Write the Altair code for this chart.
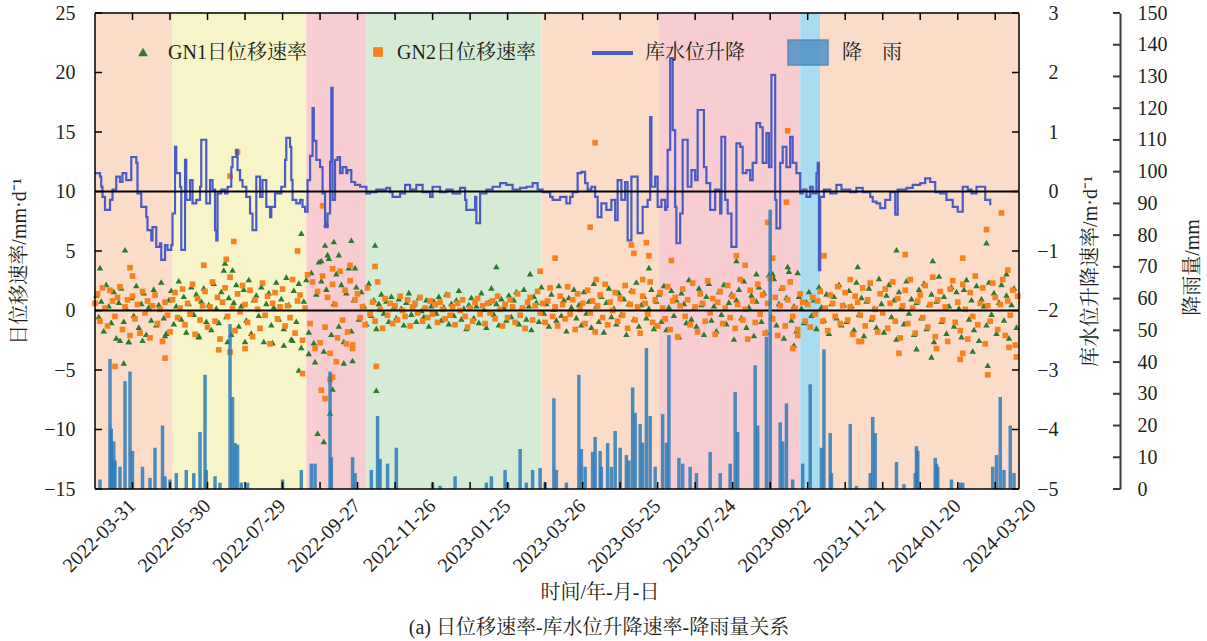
import altair as alt
import pandas as pd

# ---------------- data ----------------
START = pd.Timestamp("2022-03-01")

# phase background bands (day offsets from 2022-03-01)
band_start = [0, 62, 169, 217, 357, 451, 564, 580]
band_end = [62, 169, 217, 357, 451, 564, 580, 739]
band_phase = ["p1", "p2", "p3", "p4", "p5", "p6", "p7", "p8"]
band_colors = ["#fbdcc8", "#f7f5c8", "#f8cdd1", "#d5ebd5", "#fbdcc8", "#f8cdd1", "#a8dcef", "#fbdcc8"]

# daily rainfall (day offset, mm)
rain = [(4,3),(12,41),(13,19),(15,15),(16,9),(20,7),(24,34),(28,37),(30,12),(38,7),(44,3.5),(48,13),
        (54,20),(56,4),(60,3),(65,5),(73,6),(79,5),(84,18),(88,36),(89,6),(96,4),(100,2),(108,52),
        (110,29),(112,14.5),(114,14),(117,2),(122,2),(150,3),(165,6),(173,8),(176,8),(188,37),(189,10),
        (206,10),(208,5),(221,6),(226,23),(228,9.5),(234,8),(241,13),(270,2),(276,1),(288,4),(313,2),
        (317,4),(328,6),(330,2),(340,12.6),(345,2),(350,6),(356,6.6),(360,2),(367,28.6),(369,6),(377,2),
        (387,36),(389,12.6),(392,7),(398,11.7),(400,16.4),(404,12),(405,7),(410,14.5),(413,7),(416,18.3),
        (420,13),(425,10.7),(427,9),(430,32),(432,24),(436,20.5),(438,14.6),(441,44.4),(444,23),(448,7),
        (454,23.6),(457,14.6),(459,48.5),(467,9.8),(470,8),(476,7),(481,5),(492,11.7),(500,5),(508,8),
        (512,30.6),(514,18),(528,39),(530,20),(537,48),(540,88),(548,21),(550,15),(553,27),(558,3),
        (566,8),(572,33),(581,13),(583,44),(588,17.6),(589,5),(604,20.5),(609,1),(620,5),(622,22.7),
        (624,17.6),(641,8.5),(647,1.5),(656,5),(657,13.5),(658,12),(672,9.8),(673,8),(674,7),(685,3),
        (692,2),(694,2),(718,7),(721,10.7),(724,29),(727,6),(732,20),(735,5)]

# reservoir water level change rate (day offset, m/d)
water = [(0,.31),(4,.25),(5,.08),(6,-.09),(8,-.31),(10,-.31),(12,-.14),(14,.03),(17,.25),(20,.16),(22,.31),
         (25,.19),(29,.58),(32,.58),(33,.48),(34,-.03),(37,-.26),(41,-.43),(42,-.65),(45,-.82),(46,-.6),
         (49,-.93),(52,-.87),(53,-1.15),(56,-.9),(58,-.98),(61,-.9),(62,-.37),(64,.75),(65,.31),(68,.08),
         (69,-.98),(72,.53),(73,-.14),(76,.19),(78,-.2),(81,-.14),(84,.08),(85,.87),(88,.87),(89,-.2),
         (92,.19),(94,.03),(96,-.65),(97,-.82),(98,-.03),(101,.03),(104,-.03),(106,.08),(109,.41),(110,.58),
         (113,.7),(114,.36),(116,.19),(118,.08),(121,-.09),(124,-.37),(126,-.65),(129,.25),(132,-.09),
         (134,.19),(137,-.26),(140,-.43),(141,-.26),(144,-.03),(146,-.03),(149,.08),(152,.53),(153,.9),
         (156,.75),(157,.19),(158,-.14),(161,-.2),(164,-.14),(166,-.26),(168,-.34),(170,.19),(172,.6),
         (174,1.4),(175,.85),(177,.53),(180,.41),(182,-.03),(184,-.6),(186,-.37),(188,.5),(189,1.74),
         (190,-.14),(192,.53),(194,.58),(196,.31),(198,.41),(201,.31),(202,.36),(205,.16),(208,.11),
         (212,.08),(216,.08),(217,-.03),(220,-.01),(225,.03),(230,.03),(233,.06),(236,-.01),(238,-.09),
         (244,-.03),(248,.11),(252,.03),(257,.11),(262,-.01),(268,-.09),(270,.08),(276,-.01),(281,.03),
         (286,-.03),(292,.06),(296,-.14),(297,-.31),(301,-.31),(304,-.09),(305,-.53),(308,-.03),(313,.03),
         (318,.08),(324,.14),(329,.11),(334,.03),(340,.06),(345,.08),(350,.14),(354,.03),(358,-.01),
         (364,-.09),(366,-.14),(372,-.09),(377,-.2),(380,-.09),(382,-.01),(386,.31),(389,.33),(392,.14),
         (394,.03),(397,.08),(400,-.09),(402,-.43),(405,-.2),(409,-.31),(413,-.14),(416,-.48),(418,.19),
         (421,-.14),(424,.16),(426,-.82),(429,.25),(432,.25),(434,-.7),(438,-.26),(442,-.14),(444,1.25),
         (445,.08),(448,.25),(450,-.26),(453,-.14),(456,-.31),(457,-.26),(458,.7),(460,2.24),(462,1.03),
         (464,-.26),(465,-.87),(468,-.37),(470,.87),(472,.87),(474,.08),(477,.36),(480,.19),(482,1.37),
         (485,1.37),(487,.41),(489,.14),(492,-.31),(496,.03),(500,-.37),(501,.92),(504,-.14),(506,-.37),
         (509,-.93),(512,-.93),(513,.81),(516,.75),(518,.31),(521,.36),(524,.19),(526,.48),(529,1.15),
         (532,1.08),(534,.48),(537,.98),(539,.41),(541,1.96),(544,-.14),(545,-.62),(548,.48),(550,.75),
         (553,.41),(556,.92),(558,.48),(561,.31),(564,-.03),(566,.03),(569,-.09),(572,.08),(574,-.03),
         (577,.31),(578,.48),(579,-1.32),(580,-.09),(583,.03),(588,-.03),(593,.11),(597,.03),(604,-.01),
         (609,.06),(614,-.01),(620,-.09),(622,-.17),(625,-.2),(628,-.28),(632,-.14),(636,-.01),(640,-.39),
         (642,.03),(649,.06),(654,.11),(660,.14),(664,.22),(668,.16),(672,-.01),(676,-.03),(681,-.14),
         (686,-.26),(690,-.34),(694,.08),(698,.03),(701,-.03),(705,.08),(709,.08),(712,-.14),(716,-.23)]

# GN2 daily displacement rate, every second day from day 0 (mm/d)
gn2_vals = [0.6,1.4,-0.9,1.9,0.2,-1.3,1.7,0.8,-0.5,1.1,2.0,-1.6,0.3,0.9,-2.1,
            1.2,-0.7,0.5,-1.9,1.6,-0.2,0.8,-2.3,0.4,1.3,-1.1,0.1,-2.6,0.7,-0.4,
            -1.8,0.9,1.5,-0.6,0.2,1.8,-1.2,0.6,-0.3,2.2,-2.0,1.0,-0.8,0.4,1.6,
            -1.4,0.3,2.4,-0.9,1.1,-2.4,0.7,1.9,-0.5,2.8,0.2,-1.7,1.4,-0.1,2.1,
            0.5,-1.0,1.7,-2.2,0.9,0.1,-1.5,2.3,-0.4,1.2,-2.8,0.6,1.5,-0.7,0.3,
            1.8,-1.3,0.4,-0.6,2.6,-1.9,0.8,1.3,-2.5,0.2,3.0,-1.1,2.4,-3.2,1.6,
            -2.7,2.9,-1.4,1.1,-3.6,2.2,0.5,-2.3,3.3,-0.8,1.7,-1.8,2.5,-2.9,0.9,
            1.4,-0.6,0.3,-1.2,1.9,-0.3,0.7,-0.9,2.4,0.1,-1.5,1.0,-0.4,0.6,-1.1,
            0.4,-0.8,1.2,0.0,-0.5,0.9,-1.3,0.3,0.6,-0.2,1.1,-0.9,0.2,-0.6,0.8,
            -0.3,0.5,-1.0,0.7,0.1,-0.7,1.3,-0.4,0.3,-1.2,0.6,0.0,0.9,-0.5,-1.4,
            0.2,-0.9,0.7,1.0,-0.3,0.4,-1.1,0.6,-0.2,0.8,-0.7,1.2,0.1,-1.3,0.5,
            -0.6,0.9,0.3,-1.0,1.4,-0.4,0.2,-1.5,0.7,1.1,-0.8,0.4,1.6,-0.2,0.6,
            -1.0,0.8,1.9,-0.5,0.3,-1.3,1.2,0.5,-0.7,2.0,-0.3,0.9,-1.6,1.4,0.1,
            0.6,-1.1,1.7,-0.2,0.8,-1.8,0.4,1.3,-0.6,2.2,-1.2,0.7,0.0,1.5,-0.9,
            1.0,-0.4,2.1,-1.5,0.5,1.6,-0.8,0.3,-1.9,1.2,0.6,-0.3,2.4,-1.0,0.9,
            -1.3,1.5,0.2,-0.7,2.0,-1.6,0.8,1.1,-2.2,0.4,1.8,-0.5,0.9,-1.2,2.3,
            0.3,-1.8,1.4,0.6,-0.9,2.5,-0.2,1.0,-2.0,0.7,1.6,-1.1,0.2,2.1,-0.6,
            1.2,-1.5,0.5,2.6,-0.8,0.1,-2.4,1.7,0.8,-1.0,2.2,-0.3,1.3,-1.9,0.6,
            2.7,-0.7,1.1,-2.1,0.4,1.9,-1.3,0.9,2.4,-0.5,0.2,-1.6,1.4,0.7,-0.9,
            0.5,-1.4,1.1,-0.3,0.8,1.6,-0.9,0.2,-1.7,1.3,0.6,-0.5,2.0,-1.1,0.4,
            1.5,-0.8,0.3,-2.0,1.2,0.7,-0.4,1.9,-1.3,0.9,2.3,-0.6,0.1,-1.8,1.4,
            -0.2,1.8,-1.5,0.6,2.4,-0.9,1.0,-2.3,0.4,1.7,-1.1,2.6,0.2,-1.9,0.8,
            1.3,-0.6,2.1,-1.4,0.5,2.8,-2.2,0.9,1.6,-0.8,0.3,-2.6,1.8,2.5,-1.0,
            0.7,-1.7,2.2,0.1,-2.4,1.5,-0.5,2.9,-1.2,0.6,1.9,-2.8,0.4,-0.9,2.3,
            1.1,-1.6,0.5,2.6,-2.1,0.8,-0.4,1.7,-2.9,1.2]
gn2_extra = [(16,-4.7),(28,3.6),(30,2.9),(56,-4.0),(87,3.8),(99,-3.3),(105,4.3),(108,11.3),(111,5.8),
             (114,13.3),(108,-3.5),(120,-3.2),(162,5.0),(166,-5.3),(181,-6.7),(182,8.8),(184,-7.4),
             (188,-5.8),(190,-5.6),(190,3.5),(193,-4.3),(201,-2.8),(204,3.8),(206,-3.2),(225,-4.7),
             (224,3.7),(356,3.3),(368,4.4),(396,7.0),(400,14.1),(401,2.6),(429,5.5),(431,4.8),(438,2.6),
             (441,5.7),(443,4.6),(461,4.2),(513,4.6),(520,3.8),(538,7.4),(542,4.4),(553,9.1),(554,15.1),
             (558,-3.2),(562,-2.1),(583,4.6),(604,2.6),(611,-2.6),(613,-2.6),(643,-3.6),(648,4.7),
             (673,-3.2),(692,-4.1),(694,4.4),(694,-3.6),(713,6.8),(714,-5.4),(725,8.2),(730,3.4),
             (731,-3.1),(737,-3.9)]

# GN1 daily displacement rate, every second day from day 1 (mm/d)
gn1_vals = [1.3,-0.5,0.8,-1.7,2.2,0.4,-1.0,1.6,-2.3,0.7,1.9,-0.9,0.2,-2.6,1.1,
            -0.4,2.1,-1.4,0.6,1.5,-2.0,0.3,-0.8,1.8,-1.2,0.5,2.4,-0.6,-1.9,0.9,
            1.7,-1.1,0.4,2.5,-0.7,1.2,-1.8,0.6,2.0,-0.3,1.4,-2.2,0.8,1.9,-0.9,
            0.5,-1.6,2.3,0.2,-1.0,1.6,3.4,-0.5,1.1,-2.0,0.7,2.2,-1.3,0.4,1.8,
            -0.8,2.6,-1.9,0.9,1.3,-0.4,2.0,-2.6,0.6,1.5,-1.2,0.3,2.4,-0.7,1.0,
            -1.5,2.8,0.5,-2.4,1.7,-0.9,2.3,-3.1,0.8,2.6,-1.8,3.2,-2.7,1.4,4.1,
            2.5,-3.4,1.8,4.4,-2.0,0.6,3.1,-1.3,2.2,-2.6,1.5,3.6,-1.7,0.9,2.0,
            -0.7,1.6,0.4,-1.1,2.3,-0.4,0.9,-1.5,0.6,1.4,-0.2,0.8,-0.9,1.2,0.3,
            -0.6,1.0,0.2,-1.2,0.7,1.5,-0.3,0.5,-0.9,1.1,0.0,-0.5,0.9,-1.3,0.4,
            0.8,-0.2,1.2,-0.8,0.3,1.4,-1.1,0.6,-0.4,0.9,1.7,-0.7,0.2,-1.5,0.5,
            1.1,-0.6,0.4,-1.0,1.5,0.1,-1.4,0.7,1.9,-0.3,0.6,-1.2,1.0,0.3,-0.8,
            1.3,-0.5,0.9,1.6,-1.1,0.2,1.8,-0.7,0.4,-1.6,1.2,0.7,-0.9,2.0,-0.2,
            0.6,-1.3,1.4,0.1,-0.8,2.1,-0.4,0.9,-1.7,1.1,0.3,1.8,-0.6,0.5,-1.2,
            1.6,-0.2,0.8,-1.4,2.3,0.4,-0.9,1.2,-1.8,0.7,1.9,-0.5,0.2,-1.1,1.5,
            -0.3,1.0,-2.0,0.6,1.7,-0.7,2.4,-1.3,0.5,1.2,-0.6,0.2,1.8,-1.5,0.8,
            1.4,-0.9,2.1,-1.6,0.3,1.7,-0.4,0.9,-2.2,1.5,0.6,-1.0,2.6,-0.7,0.2,
            -1.3,1.9,0.5,-2.0,1.2,2.3,-0.8,0.4,-1.7,1.6,-0.3,2.2,-1.1,0.7,1.4,
            -2.4,0.9,1.8,-0.6,2.5,-1.4,0.3,1.3,-2.1,0.8,2.0,-0.9,1.5,-1.8,3.0,
            -0.5,2.7,-1.2,0.6,1.9,-2.3,1.1,3.3,-0.8,0.4,-1.7,1.2,0.2,-1.0,0.7,
            1.6,-0.4,0.9,-1.5,2.0,0.3,-0.8,1.4,-1.9,0.6,1.2,-0.6,2.2,-1.2,0.5,
            -0.9,1.7,0.4,-1.6,2.4,-0.3,1.1,-2.1,0.8,1.9,-0.7,0.2,-1.4,2.7,0.6,
            -1.8,1.3,2.2,-0.5,0.9,-2.4,1.6,0.3,-1.1,2.5,-0.2,1.0,-2.0,0.7,1.8,
            -0.6,2.3,-1.5,0.5,1.4,-2.6,0.8,2.9,-0.9,1.2,-1.9,0.4,2.0,-1.3,1.6,
            0.2,-2.2,1.8,2.6,-0.7,0.9,-1.6,2.1,-2.5,1.0,0.4,-1.2,2.4,-0.3,1.5,
            -1.9,0.7,2.2,-0.8,1.3,-2.3,0.5,1.9,-1.4]
gn1_extra = [(4,3.6),(24,5.1),(23,-4.4),(104,4.0),(110,3.4),(165,6.5),(163,-5.0),(185,7.3),(178,-10.3),
             (183,-11.0),(188,-8.6),(190,-6.6),(176,-4.3),(199,-4.4),(206,-4.2),(171,-3.6),(181,4.2),
             (186,4.7),(191,5.8),(184,5.5),(195,4.7),(205,5.9),(208,3.6),(224,5.5),(225,-6.7),(321,3.7),
             (348,3.1),(443,3.6),(529,3.1),(542,3.1),(554,3.7),(562,3.2),(559,-2.9),(641,5.1),(670,4.2),
             (713,5.7),(610,3.7),(657,-3.2),(669,-3.9),(702,-3.4),(714,-4.6),(729,3.1),(513,4.2),
             (20,-2.5),(27,-2.6),(38,-2.5),(56,-2.1),(83,-2.1),(106,-2.6),(120,-2.6),(142,-2.7),
             (151,-2.9),(158,-2.5)]

left_ticks = [-15, -10, -5, 0, 5, 10, 15, 20, 25]
water_ticks = [-5, -4, -3, -2, -1, 0, 1, 2, 3]
rain_ticks = list(range(0, 160, 10))
x_tick_dates = pd.date_range("2022-03-31", periods=24, freq="30D")
x_label_dates = pd.date_range("2022-03-31", periods=13, freq="60D")

# ---------------- frames ----------------
def d2t(days):
    return [START + pd.Timedelta(days=int(d)) for d in days]

bands_df = pd.DataFrame({"start": d2t(band_start), "end": d2t(band_end), "phase": band_phase})
rain_df = pd.DataFrame({"date": d2t([r[0] for r in rain]), "mm": [r[1] for r in rain]})
water_df = pd.DataFrame({"date": d2t([w[0] for w in water]), "v": [w[1] for w in water]})
gn2_days = list(range(0, 2 * len(gn2_vals), 2)) + [e[0] for e in gn2_extra]
gn2_df = pd.DataFrame({"date": d2t(gn2_days), "v": gn2_vals + [e[1] for e in gn2_extra]})
gn1_days = list(range(1, 2 * len(gn1_vals) + 1, 2)) + [e[0] for e in gn1_extra]
gn1_df = pd.DataFrame({"date": d2t(gn1_days), "v": gn1_vals + [e[1] for e in gn1_extra]})
xt_df = pd.DataFrame({"date": list(x_tick_dates)})
xl_df = pd.DataFrame({"date": list(x_label_dates), "label": [d.strftime("%Y-%m-%d") for d in x_label_dates]})
one = pd.DataFrame({"a": [0]})

# ---------------- styling ----------------
W, H = 924, 476
FONT = "Liberation Serif, Noto Serif CJK SC, Noto Sans CJK SC, serif"
TXT = "#231f20"
xscale = alt.Scale(domain=[alt.DateTime(year=2022, month=3, date=1),
                           alt.DateTime(year=2024, month=3, date=9)], nice=False, padding=0)
X = alt.X("date:T", scale=xscale, axis=None)

yl = alt.Scale(domain=[-15, 25], nice=False, zero=False)
yw = alt.Scale(domain=[-5, 3], nice=False, zero=False)
yr = alt.Scale(domain=[0, 150], nice=False, zero=False)

common = dict(ticks=False, grid=False, labelFont=FONT, labelFontSize=20, labelColor=TXT,
              titleFont=FONT, titleFontSize=20, titleFontWeight="normal", titleColor=TXT,
              titleAngle=270, titleAlign="center", titleBaseline="middle", tickSize=0)
left_axis = alt.Axis(values=left_ticks, domain=False, labelPadding=20,
                     title="日位移速率/mm·d⁻¹", titleX=-76, titleY=248, **common)
water_axis = alt.Axis(orient="right", values=water_ticks, domain=False, labelPadding=39,
                      labelAlign="right", title="库水位升降速率/m·d⁻¹", titleX=71, titleY=258, **common)
rain_axis = alt.Axis(orient="right", offset=101, values=rain_ticks, domain=True, domainColor="#3a3a3a",
                     domainWidth=2, labelPadding=17, labelAlign="left",
                     title="降雨量/mm", titleX=72, titleY=254, **common)

# ---------------- layers ----------------
bands = alt.Chart(bands_df).mark_rect().encode(
    x=alt.X("start:T", scale=xscale, axis=None), x2="end:T",
    color=alt.Color("phase:N", scale=alt.Scale(domain=band_phase, range=band_colors), legend=None))

gn1 = alt.Chart(gn1_df).mark_point(shape="triangle-up", filled=True, size=42, color="#2b7a2e", opacity=1).encode(
    x=X, y=alt.Y("v:Q", scale=yl, axis=left_axis))
gn2 = alt.Chart(gn2_df).mark_point(shape="square", filled=True, size=32, color="#f5821f", opacity=1).encode(
    x=X, y=alt.Y("v:Q", scale=yl, axis=left_axis))
zero_left = alt.Chart(pd.DataFrame({"v": [0]})).mark_rule(color="black", strokeWidth=2).encode(
    y=alt.Y("v:Q", scale=yl, axis=left_axis))
lt = alt.Chart(pd.DataFrame({"v": left_ticks})).mark_rule(color="black", strokeWidth=1.5).encode(
    x=alt.value(0), x2=alt.value(7), y=alt.Y("v:Q", scale=yl, axis=left_axis))
left_group = alt.layer(gn1, gn2, zero_left, lt)

water_line = alt.Chart(water_df).mark_line(interpolate="step-after", color="#4a5bc4", strokeWidth=2.2).encode(
    x=X, y=alt.Y("v:Q", scale=yw, axis=water_axis))
zero_right = alt.Chart(pd.DataFrame({"v": [0]})).mark_rule(color="black", strokeWidth=2).encode(
    y=alt.Y("v:Q", scale=yw, axis=water_axis))
wt = alt.Chart(pd.DataFrame({"v": water_ticks})).mark_rule(color="black", strokeWidth=1.5).encode(
    x=alt.value(W - 7), x2=alt.value(W), y=alt.Y("v:Q", scale=yw, axis=water_axis))
water_group = alt.layer(water_line, zero_right, wt)

rain_bars = alt.Chart(rain_df).mark_bar(size=3.5, color="#2c7bba", opacity=0.85).encode(
    x=X, y=alt.Y("mm:Q", scale=yr, axis=rain_axis))
rt = alt.Chart(pd.DataFrame({"mm": rain_ticks})).mark_rule(color="#3a3a3a", strokeWidth=2).encode(
    x=alt.value(W + 94), x2=alt.value(W + 101), y=alt.Y("mm:Q", scale=yr, axis=rain_axis))
rain_group = alt.layer(rain_bars, rt)

xt_bottom = alt.Chart(xt_df).mark_rule(color="black", strokeWidth=1.5).encode(
    x=X, y=alt.value(H - 7), y2=alt.value(H))
xt_top = alt.Chart(xt_df).mark_rule(color="black", strokeWidth=1.5).encode(
    x=X, y=alt.value(0), y2=alt.value(7))
xlabels = alt.Chart(xl_df).mark_text(angle=315, align="right", baseline="middle", font=FONT,
                                      fontSize=20, color=TXT).encode(
    x=X, y=alt.value(H + 14), text="label:N")

def frame_rule(**enc):
    return alt.Chart(one).mark_rule(color="black", strokeWidth=1.5).encode(**enc)

frame = [frame_rule(x=alt.value(0), x2=alt.value(W), y=alt.value(0)),
         frame_rule(x=alt.value(0), x2=alt.value(W), y=alt.value(H)),
         frame_rule(x=alt.value(0), y=alt.value(0), y2=alt.value(H)),
         frame_rule(x=alt.value(W), y=alt.value(0), y2=alt.value(H))]

def txt(s, x, y, size=20, align="left"):
    return alt.Chart(one).mark_text(text=s, font=FONT, fontSize=size, color=TXT, align=align,
                                    baseline="middle").encode(x=alt.value(x), y=alt.value(y))

legend = [
    alt.Chart(one).mark_point(shape="triangle-up", filled=True, size=95, color="#2b7a2e", opacity=1).encode(
        x=alt.value(48), y=alt.value(39)),
    txt("GN1日位移速率", 73, 40),
    alt.Chart(one).mark_point(shape="square", filled=True, size=95, color="#f5821f", opacity=1).encode(
        x=alt.value(283), y=alt.value(39)),
    txt("GN2日位移速率", 302, 40),
    alt.Chart(one).mark_rule(color="#4a5bc4", strokeWidth=4).encode(
        x=alt.value(497), x2=alt.value(538), y=alt.value(40)),
    txt("库水位升降", 550, 40),
    alt.Chart(one).mark_rect(color="#4f93c6", opacity=0.85, stroke="#3b82bb", strokeWidth=1.5).encode(
        x=alt.value(693), x2=alt.value(733), y=alt.value(27), y2=alt.value(52)),
    txt("降\u3000雨", 747, 40),
]

titles = [txt("时间/年-月-日", 505, 580, align="center"),
          txt("(a) 日位移速率-库水位升降速率-降雨量关系", 504, 615, size=20, align="center")]

chart = alt.layer(
    bands, left_group, rain_group, water_group, xt_bottom, xt_top, xlabels, *frame, *legend, *titles
).resolve_scale(y="independent").properties(
    width=W, height=H,
    autosize=alt.AutoSizeParams(type="none"),
    padding={"left": 95, "top": 13, "right": 188, "bottom": 152},
    background="white",
).configure_view(stroke=None)

chart.save("out.html", embed_options={"renderer": "svg", "actions": False})
